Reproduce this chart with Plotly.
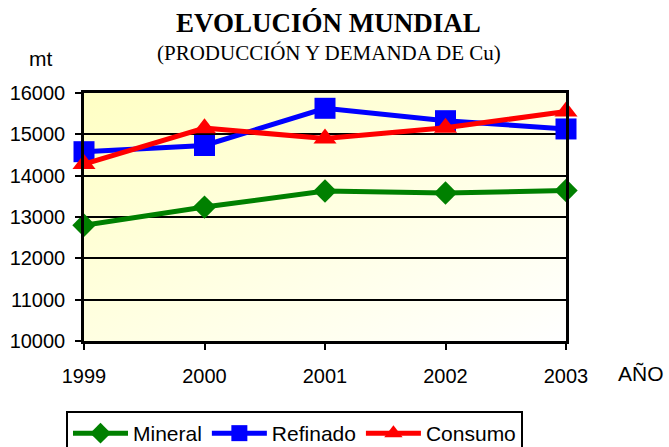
import base64
import plotly.graph_objects as go

years = [1999, 2000, 2001, 2002, 2003]
mineral = [12800, 13240, 13630, 13580, 13640]
refinado = [14580, 14730, 15630, 15330, 15130]
consumo = [14280, 15150, 14900, 15160, 15550]
y_ticks = [10000, 11000, 12000, 13000, 14000, 15000, 16000]

SANS = "Liberation Sans, Arial, sans-serif"
SERIF = "Liberation Serif, Times New Roman, serif"

svg = ('<svg xmlns="http://www.w3.org/2000/svg" width="100" height="100" preserveAspectRatio="none">'
       '<defs><linearGradient id="g" x1="0" y1="0" x2="1" y2="1">'
       '<stop offset="0" stop-color="#FFFFC4"/><stop offset="1" stop-color="#FFFFFF"/>'
       '</linearGradient></defs><rect width="100" height="100" fill="url(#g)"/></svg>')
bg_uri = "data:image/svg+xml;base64," + base64.b64encode(svg.encode()).decode()

fig = go.Figure()
fig.add_trace(go.Scatter(x=years, y=mineral, name="Mineral", mode="lines+markers",
                         line=dict(color="#008000", width=5),
                         marker=dict(symbol="diamond", size=18, color="#008000"),
                         cliponaxis=False))
fig.add_trace(go.Scatter(x=years, y=refinado, name="Refinado", mode="lines+markers",
                         line=dict(color="#0000FF", width=5),
                         marker=dict(symbol="square", size=21, color="#0000FF"),
                         cliponaxis=False))
fig.add_trace(go.Scatter(x=years, y=consumo, name="Consumo", mode="lines+markers",
                         line=dict(color="#FF0000", width=5),
                         marker=dict(symbol="triangle-up", size=20, color="#FF0000"),
                         cliponaxis=False))

L, R, T, B = 84, 103, 93, 106
W, H = 669, 447
pw, ph = W - L - R, H - T - B


def px_x(x):
    return (x - L) / pw


def px_y(y):
    return (H - y - B) / ph


fig.update_layout(
    width=W, height=H,
    margin=dict(l=L, r=R, t=T, b=B, autoexpand=False),
    paper_bgcolor="white",
    plot_bgcolor="#FFFFE0",
    showlegend=True,
    legend=dict(orientation="h", x=px_x(66), xanchor="left", y=px_y(411), yanchor="top",
                bordercolor="black", borderwidth=2, bgcolor="white",
                font=dict(family=SANS, size=21, color="black"),
                itemwidth=55, tracegroupgap=0),
    images=[dict(source=bg_uri, xref="paper", yref="paper", x=0, y=1, sizex=1, sizey=1,
                 xanchor="left", yanchor="top", sizing="stretch", layer="below")],
    annotations=[
        dict(text="<b>EVOLUCIÓN MUNDIAL</b>", x=px_x(328), y=px_y(23),
             font=dict(family=SERIF, size=27, color="black")),
        dict(text="(PRODUCCIÓN Y DEMANDA DE Cu)", x=px_x(329), y=px_y(53),
             font=dict(family=SERIF, size=21, color="black")),
        dict(text="mt", x=px_x(40), y=px_y(58),
             font=dict(family=SANS, size=21, color="black")),
        dict(text="AÑO", x=px_x(641), y=px_y(373),
             font=dict(family=SANS, size=21, color="black")),
    ],
)
fig.update_annotations(xref="paper", yref="paper", showarrow=False,
                       xanchor="center", yanchor="middle")

fig.update_xaxes(range=[1999, 2003], tickvals=years, ticks="outside", ticklen=6,
                 tickwidth=2, tickcolor="black", showline=True, linecolor="black",
                 linewidth=2.5, mirror=True, showgrid=False, zeroline=False,
                 tickfont=dict(family=SANS, size=20, color="black"), ticklabelstandoff=9)
fig.update_yaxes(range=[10000, 16000], tickvals=y_ticks, ticks="outside", ticklen=6,
                 tickwidth=2, tickcolor="black", showline=True, linecolor="black",
                 linewidth=2.5, mirror=True, showgrid=True, gridcolor="black",
                 gridwidth=1.5, zeroline=False, tickformat="d",
                 tickfont=dict(family=SANS, size=20, color="black"), ticklabelstandoff=6)

fig.write_html("out.html", config={"displayModeBar": False},
               post_script="document.body.style.margin='0';document.body.style.overflow='hidden';")
